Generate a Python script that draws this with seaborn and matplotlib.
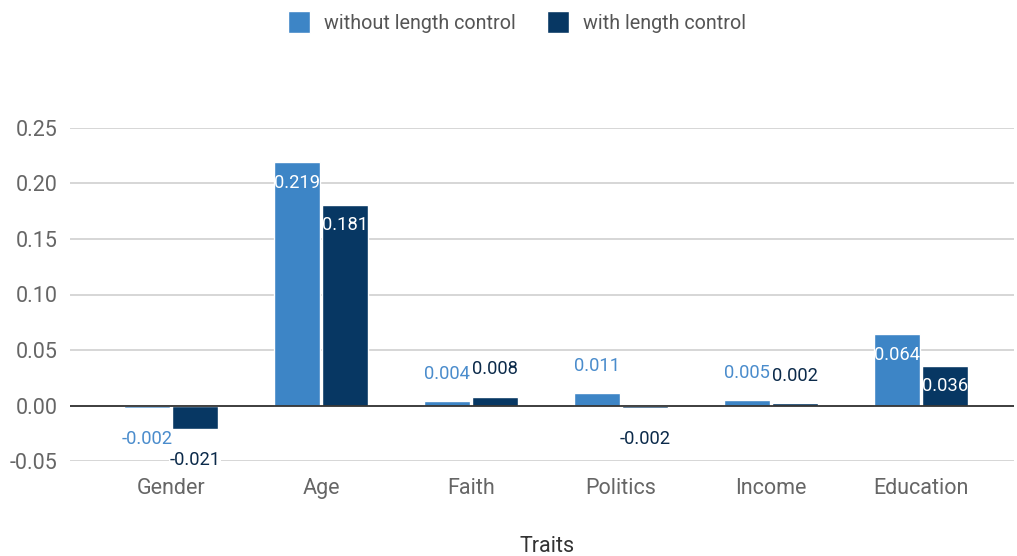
import pandas as pd
import seaborn as sns
import matplotlib.pyplot as plt
from matplotlib.ticker import FormatStrFormatter

traits = ["Gender", "Age", "Faith", "Politics", "Income", "Education"]
without_ctrl = [-0.002, 0.219, 0.004, 0.011, 0.005, 0.064]
with_ctrl = [-0.021, 0.181, 0.008, -0.002, 0.002, 0.036]
series = ["without length control", "with length control"]
colors = ["#3d85c6", "#073763"]
label_colors = ["#4a8ccc", "#0b2a4a"]

df = pd.DataFrame({
    "trait": traits * 2,
    "value": without_ctrl + with_ctrl,
    "series": [series[0]] * len(traits) + [series[1]] * len(traits),
})

sns.set_style("white")
plt.rcParams["font.family"] = ["Roboto", "DejaVu Sans"]

fig = plt.figure(figsize=(10.17, 5.56), dpi=100)
ax = fig.add_axes([70 / 1017, 95 / 556, 944 / 1017, 333 / 556])

sns.barplot(data=df, x="trait", y="value", hue="series", palette=colors,
            width=0.64, gap=0.03, saturation=1, ax=ax, legend=True)

ax.set_ylim(-0.05, 0.25)
ax.set_xlim(-0.673, 5.62)
ax.set_yticks([-0.05, 0, 0.05, 0.10, 0.15, 0.20, 0.25])
ax.yaxis.set_major_formatter(FormatStrFormatter("%.2f"))
ax.grid(axis="y", color="#cccccc", lw=1.1)
ax.set_axisbelow(True)
ax.axhline(0, color="#333333", lw=1.3, zorder=3)
for s in ax.spines.values():
    s.set_visible(False)
ax.tick_params(axis="both", length=0, labelsize=15.5, labelcolor="#666666")
ax.tick_params(axis="y", pad=9)
ax.tick_params(axis="x", pad=12)
ax.set_xlabel("")
ax.set_ylabel("")

# data labels
for cont, vals, lc in zip(ax.containers, [without_ctrl, with_ctrl], label_colors):
    for bar, v in zip(cont, vals):
        x = bar.get_x() + bar.get_width() / 2
        if abs(v) > 0.03:
            ax.annotate(f"{v:.3f}", (x, v), xytext=(0, -8), textcoords="offset points",
                        ha="center", va="top", color="white", fontsize=13.2, zorder=5)
        elif v >= 0:
            ax.annotate(f"{v:.3f}", (x, v), xytext=(0, 16), textcoords="offset points",
                        ha="center", va="baseline", color=lc, fontsize=13.2, zorder=5)
        else:
            ax.annotate(f"{v:.3f}", (x, v), xytext=(0, -16), textcoords="offset points",
                        ha="center", va="top", color=lc, fontsize=13.2, zorder=5,
                        bbox=dict(facecolor="white", edgecolor="none", pad=0.5))

handles, labels = ax.get_legend_handles_labels()
ax.get_legend().remove()
fig.legend(handles, labels, loc="center", bbox_to_anchor=(517 / 1017, 1 - 22 / 556),
           ncol=2, frameon=False, fontsize=14.2, labelcolor="#555555",
           handlelength=1.1, handleheight=1.4, handletextpad=0.7, columnspacing=1.6)

fig.text(547 / 1017, 1 - 547 / 556, "Traits", ha="center", va="center",
         fontsize=15.5, color="#333333")

fig.savefig("out.png", dpi=100)
